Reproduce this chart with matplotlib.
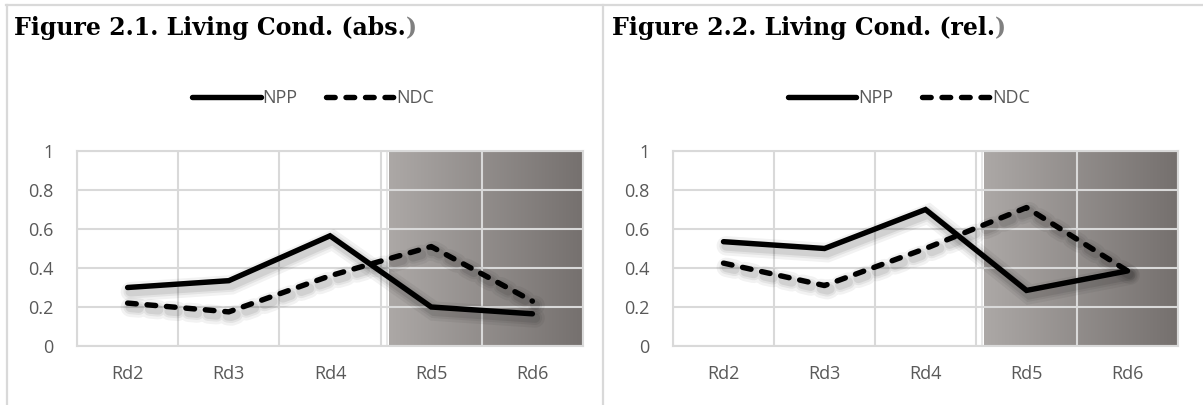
import matplotlib.pyplot as plt
import matplotlib.patheffects as pe
from matplotlib.lines import Line2D
import numpy as np

# data
rounds = ["Rd2", "Rd3", "Rd4", "Rd5", "Rd6"]
npp_abs = [0.30, 0.335, 0.565, 0.20, 0.165]
ndc_abs = [0.22, 0.175, 0.36, 0.51, 0.23]
npp_rel = [0.535, 0.50, 0.70, 0.285, 0.385]
ndc_rel = [0.425, 0.31, 0.50, 0.71, 0.385]
titles = ["Figure 2.1. Living Cond. (abs.", "Figure 2.2. Living Cond. (rel."]

W, H = 1203, 405
fig = plt.figure(figsize=(W / 100, H / 100), dpi=100)
plt.rcParams['font.family'] = ['Open Sans', 'DejaVu Sans']

txt = '#595959'
grid_c = '#d9d9d9'
shade_from = 2.58  # start of the shaded block (between Rd4 and Rd5)
dashes = (0, (1.6, 2.0))

# soft shadow: a few wide, faint offset copies
shadow = [pe.SimpleLineShadow(offset=(2, -3), shadow_color='k', alpha=a, linewidth=w)
          for a, w in [(0.05, 14), (0.06, 10), (0.08, 7)]] + [pe.Normal()]

# gradient for the shaded block
grad = np.linspace(0, 1, 256)[None, :]
c0 = np.array([172, 168, 166]) / 255
c1 = np.array([117, 112, 110]) / 255
grad_img = c0 + (c1 - c0) * grad[..., None]

panels = [(77, 583, npp_abs, ndc_abs, 14), (673, 1178, npp_rel, ndc_rel, 612)]
for (x0, x1, npp, ndc, tx), title in zip(panels, titles):
    ax = fig.add_axes([x0 / W, (H - 346) / H, (x1 - x0) / W, 195 / H])
    x = np.arange(len(rounds))
    ax.imshow(grad_img, extent=(shade_from, 4.5, 0, 1), aspect='auto', zorder=0)
    ax.axvline(2.56, color='#e4e4e4', lw=1.2, zorder=0.8)
    ax.plot(x, npp, color='black', lw=3.9, solid_capstyle='round', solid_joinstyle='miter',
            path_effects=shadow, zorder=3)
    ax.plot(x, ndc, color='black', lw=3.9, linestyle=dashes, dash_capstyle='round',
            path_effects=shadow, zorder=3)
    ax.set_xlim(-0.5, 4.5)
    ax.set_ylim(0, 1)
    ax.set_xticks(x)
    ax.set_xticklabels(rounds)
    ax.set_xticks(np.arange(-0.5, 5, 1), minor=True)
    ax.set_yticks([0, 0.2, 0.4, 0.6, 0.8, 1])
    ax.set_yticklabels(['0', '0.2', '0.4', '0.6', '0.8', '1'])
    ax.grid(True, which='minor', axis='x', color=grid_c, lw=1.5)
    ax.grid(True, which='major', axis='y', color=grid_c, lw=1.5)
    ax.tick_params(which='both', length=0, labelsize=13, colors=txt)
    ax.tick_params(axis='x', pad=14)
    ax.tick_params(axis='y', pad=17)
    for s in ax.spines.values():
        s.set_color(grid_c)
        s.set_linewidth(1.5)
    handles = [Line2D([], [], color='black', lw=3.9, solid_capstyle='round'),
               Line2D([], [], color='black', lw=3.9, linestyle=dashes, dash_capstyle='round')]
    leg = ax.legend(handles, ['NPP', 'NDC'], loc='center', bbox_to_anchor=(0.467, 1.27),
                    ncol=2, frameon=False, fontsize=13, handlelength=3.8,
                    handletextpad=0.1, columnspacing=1.6)
    for t in leg.get_texts():
        t.set_color(txt)
    # title, closing bracket in grey as in the reference
    t = fig.text(tx / W, 1 - 28 / H, title, family='DejaVu Serif', weight='bold',
                 fontsize=17, va='center', ha='left', color='black')
    ax.annotate(')', xy=(1, 0.5), xycoords=t, va='center', ha='left',
                family='DejaVu Serif', weight='bold', fontsize=17, color='#808080',
                annotation_clip=False)

# panel frames
for xs, ys in [([6.5, 6.5], [5, H]), ([6, W], [5, 5]), ([603, 603], [5, H])]:
    fig.add_artist(Line2D([v / W for v in xs], [1 - v / H for v in ys],
                          color=grid_c, lw=1.6))

fig.savefig('out.png', dpi=100)
